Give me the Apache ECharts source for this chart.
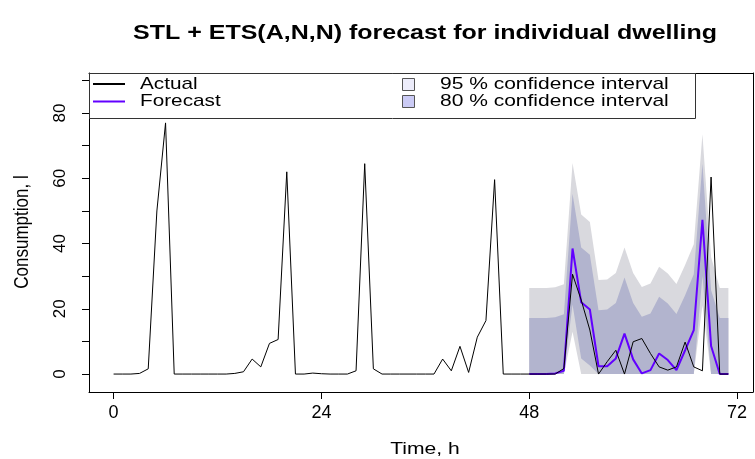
<!DOCTYPE html>
<html><head><meta charset="utf-8">
<script src="https://cdn.jsdelivr.net/npm/echarts@6/dist/echarts.min.js"></script>
<style>html,body{margin:0;padding:0;background:#fff}#c{width:755px;height:459px}</style>
</head><body><div id="c"></div>
<script>
// ---- data ----
const hours = [0,1,2,3,4,5,6,7,8,9,10,11,12,13,14,15,16,17,18,19,20,21,22,23,24,25,26,27,28,29,30,31,32,33,34,35,
  36,37,38,39,40,41,42,43,44,45,46,47,48,49,50,51,52,53,54,55,56,57,58,59,60,61,62,63,64,65,66,67,68,69,70,71];
const actual = [0,0,0,0.2,1.6,50,77,0,0,0,0,0,0,0,0.2,0.7,4.6,2.2,9.4,10.6,62,0,0,0.3,0.1,0,0,0,1,64.5,1.6,0,
  0,0,0,0,0,0,4.6,1,8.5,0.5,11.3,16.4,59.6,0,0,0,0,0,0,0,1.7,30.6,22.7,13.5,0,3.8,7.3,0,9.9,10.9,6.3,2.2,1.2,2.2,9.8,2.2,1,60.4,0,0];
const fcHours = [48,49,50,51,52,53,54,55,56,57,58,59,60,61,62,63,64,65,66,67,68,69,70,71];
const forecast = [0,0,0,0.2,1,38.5,22,19.8,2.4,2.4,4.8,12.4,4.5,0.2,1.2,6.3,4.3,1.2,7.3,13.5,47.3,8.6,0,0];
const upper80 = [17.2,17.2,17.2,17.4,18.3,55.3,38.8,36.6,19.6,19.8,21.8,29.6,21.8,17.6,18.6,23.7,21.6,18.4,24.2,30.6,64.5,25.7,17.2,17.2];
const lower80 = [0,0,0,0,0,21.3,4.8,2.6,0,0,0,0,0,0,0,0,0,0,0,0,30.1,0,0,0];
const upper95 = [26.4,26.4,26.4,26.6,27.5,64.7,48.9,46.6,28.8,29,31,38.8,31,26.7,27.8,32.9,30.8,27.6,33.4,39.8,73.5,35.9,26.4,26.4];
const lower95 = [0,0,0,0,0,13,0,0,0,0,0,0,0,0,0,0,0,0,0,0,21,0,0,0];
const xTicks = [0,24,48,72];
const yTicks = [0,10,20,30,40,50,60,70,80,90];
const yLabels = [0,20,40,60,80];
const titleText = 'STL + ETS(A,N,N) forecast for individual dwelling';
const xName = 'Time, h';
const yName = 'Consumption, l';
const legendLines = ['Actual','Forecast'];
const legendBands = ['95 % confidence interval','80 % confidence interval'];

// ---- chart ----
const FONT = 'Liberation Sans, Arial, Helvetica, sans-serif';
const chart = echarts.init(document.getElementById('c'), null, {renderer:'canvas'});
const XMIN = -2.84, XMAX = 73.84, YMIN = -5.5, YMAX = 92.3;

function band(lower, upper, color, z) {
  return {
    type: 'custom', coordinateSystem: 'cartesian2d', silent: true, z: z, clip: true,
    data: [[fcHours[0], 0]],
    renderItem: function (params, api) {
      const pts = [];
      for (let i = 0; i < fcHours.length; i++) pts.push(api.coord([fcHours[i], upper[i]]));
      for (let i = fcHours.length - 1; i >= 0; i--) pts.push(api.coord([fcHours[i], lower[i]]));
      return { type: 'polygon', shape: { points: pts }, style: { fill: color, stroke: null } };
    }
  };
}

function txt(text, x, y, opt) {
  opt = opt || {};
  return {
    type: 'text', x: x, y: y, z: 200,
    scaleX: opt.sx || 1, scaleY: opt.sy || 1, rotation: opt.rot || 0,
    style: {
      text: text, fill: '#000',
      font: (opt.weight || 'normal') + ' ' + (opt.size || 17) + 'px ' + FONT,
      align: opt.align || 'left', textAlign: opt.align || 'left',
      verticalAlign: 'middle', textVerticalAlign: 'middle'
    }
  };
}
const frameAxis = { show: true, type: 'value', splitLine: { show: false }, axisTick: { show: false },
  axisLabel: { show: false }, axisLine: { show: true, onZero: false, lineStyle: { color: '#000', width: 1 } } };

const option = {
  animation: false,
  backgroundColor: '#fff',
  grid: { left: 89, top: 73, width: 664, height: 319 },
  xAxis: [{
    type: 'value', min: XMIN, max: XMAX, position: 'bottom',
    splitLine: { show: false }, axisLine: { show: true, onZero: false, lineStyle: { color: '#000', width: 1 } },
    axisTick: { show: true, customValues: xTicks, length: 7, lineStyle: { color: '#000' } },
    axisLabel: { customValues: xTicks, margin: 12, fontSize: 18, color: '#000', fontFamily: FONT }
  }, Object.assign({}, frameAxis, { min: XMIN, max: XMAX, position: 'top' })],
  yAxis: [{
    type: 'value', min: YMIN, max: YMAX, position: 'left',
    splitLine: { show: false }, axisLine: { show: true, onZero: false, lineStyle: { color: '#000', width: 1 } },
    axisTick: { show: true, customValues: yTicks, length: 7, lineStyle: { color: '#000' } },
    axisLabel: { customValues: yLabels, rotate: 90, margin: 20, fontSize: 17, color: '#000', fontFamily: FONT }
  }, Object.assign({}, frameAxis, { min: YMIN, max: YMAX, position: 'right' })],
  series: [
    band(lower95, upper95, '#d9d9de', 1),
    band(lower80, upper80, '#b2b4ce', 2),
    { type: 'line', z: 3, showSymbol: false, silent: true, data: fcHours.map((h, i) => [h, forecast[i]]),
      lineStyle: { color: '#6200ff', width: 2 } },
    { type: 'line', z: 4, showSymbol: false, silent: true, data: hours.map((h, i) => [h, actual[i]]),
      lineStyle: { color: '#000', width: 1 } }
  ],
  graphic: [
    txt(titleText, 425, 33, { size: 21, weight: 'bold', align: 'center', sx: 1.19 }),
    txt(xName, 425, 449, { size: 17, align: 'center', sx: 1.24 }),
    txt(yName, 23, 232, { size: 17, align: 'center', rot: Math.PI / 2, sy: 1.15 }),
    { type: 'rect', z: 150, shape: { x: 89.5, y: 73.5, width: 606, height: 45 }, style: { fill: '#fff', stroke: '#333', lineWidth: 1 } },
    { type: 'line', z: 160, shape: { x1: 93, y1: 84, x2: 125, y2: 84 }, style: { stroke: '#000', lineWidth: 2 } },
    { type: 'line', z: 160, shape: { x1: 93, y1: 101.5, x2: 125, y2: 101.5 }, style: { stroke: '#6200ff', lineWidth: 2 } },
    txt(legendLines[0], 140, 84, { sx: 1.22 }),
    txt(legendLines[1], 140, 101.5, { sx: 1.22 }),
    { type: 'rect', z: 160, shape: { x: 402.5, y: 78.5, width: 12, height: 12 }, style: { fill: '#ececfa', stroke: '#555', lineWidth: 1 } },
    { type: 'rect', z: 160, shape: { x: 402.5, y: 95.5, width: 12, height: 12 }, style: { fill: '#cbcbf5', stroke: '#555', lineWidth: 1 } },
    txt(legendBands[0], 440, 84, { sx: 1.235 }),
    txt(legendBands[1], 440, 101.5, { sx: 1.235 })
  ]
};
chart.setOption(option);
</script>
</body></html>
